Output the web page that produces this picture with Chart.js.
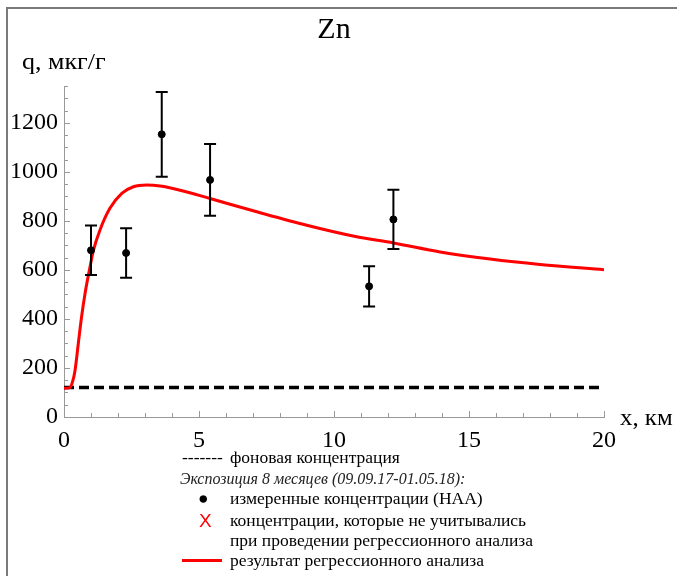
<!DOCTYPE html>
<html>
<head>
<meta charset="utf-8">
<script src="https://cdn.jsdelivr.net/npm/chart.js@4"></script>
<style>
  body { margin: 0; background: #fff; }
  #wrap { position: relative; width: 677px; height: 576px; overflow: hidden; background: #fff;
          font-family: "Liberation Serif", "Times New Roman", serif; color: #000; }
  #c { position: absolute; left: 0; top: 0; }
  .t { position: absolute; white-space: nowrap; line-height: 1; transform-origin: 0 50%; }
  .frameTop { position: absolute; left: 6px; top: 7px; width: 671px; height: 2px; background: #7a7a7a; }
  .frameLeft { position: absolute; left: 6px; top: 7px; width: 2px; height: 569px; background: #7a7a7a; }
  .leg { font-size: 17.5px; }
  .redline { position: absolute; left: 182px; top: 559px; width: 40px; height: 3px; background: #ff0000; }
</style>
</head>
<body>
<div id="wrap">
  <div class="frameTop"></div>
  <div class="frameLeft"></div>
  <canvas id="c" width="677" height="576"></canvas>

  <div class="t" style="left:0;width:668px;text-align:center;top:13px;font-size:30px;">Zn</div>
  <div class="t" style="left:22px;top:50px;font-size:23px;transform:scaleX(1.13);">q, мкг/г</div>
  <div class="t" style="left:620px;top:406px;font-size:23px;transform:scaleX(1.08);">x, км</div>

  <div class="t leg" style="left:182px;top:449px;">-------</div>
  <div class="t leg" style="left:230px;top:449px;">фоновая концентрация</div>
  <div class="t" style="left:180px;top:471px;font-size:16px;font-style:italic;color:#222;">Экспозиция 8 месяцев (09.09.17-01.05.18):</div>
  <div class="t leg" style="left:198px;top:490px;">●</div>
  <div class="t leg" style="left:230px;top:490px;">измеренные концентрации (НАА)</div>
  <div class="t" style="left:199px;top:511px;font-size:19px;color:#ff0000;font-family:'Liberation Sans',Arial,sans-serif;">X</div>
  <div class="t leg" style="left:230px;top:512px;">концентрации, которые не учитывались</div>
  <div class="t leg" style="left:230px;top:532px;">при проведении регрессионного анализа</div>
  <div class="redline"></div>
  <div class="t leg" style="left:230px;top:552px;">результат регрессионного анализа</div>
</div>

<script>
// Measured Zn concentrations (NAA) with their uncertainties
const distKm   = [1.0, 2.3, 3.62, 5.41, 11.3, 12.2];
const concZn   = [680, 669, 1153, 967, 533, 806];
const concErr  = [101, 101, 173, 146, 82, 121];

// Background concentration level
const backgroundLevel = 120;
const axisXRange = [0, 20];

// Regression curve, sampled along the distance axis
const fitX = [0, 0.22, 0.32, 0.41, 0.53, 0.65, 0.78, 0.94, 1.09, 1.33, 1.70, 2.14, 2.57, 3.06, 3.56, 4.30, 5.41, 7.14, 8.99, 10.84, 12.2, 13.93, 15.78, 17.63, 20];
const fitY = [117, 120, 145, 191, 300, 408, 504, 599, 680, 762, 851, 912, 939, 946, 942, 925, 891, 837, 782, 735, 710, 673, 644, 622, 601];

// Axis ticks
const xTickStep = 5;
const yTickStep = 200;
const yMax = 1350;

const SERIF = '"Liberation Serif", "Times New Roman", serif';

const errorBars = {
  id: 'errorBars',
  afterDatasetsDraw(chart) {
    const ctx = chart.ctx;
    const xs = chart.scales.x, ys = chart.scales.y;
    ctx.save();
    ctx.strokeStyle = '#000';
    ctx.lineWidth = 2;
    distKm.forEach((d, i) => {
      const px = xs.getPixelForValue(d);
      const top = ys.getPixelForValue(concZn[i] + concErr[i]);
      const bot = ys.getPixelForValue(concZn[i] - concErr[i]);
      ctx.beginPath();
      ctx.moveTo(px, top); ctx.lineTo(px, bot);
      ctx.moveTo(px - 6, top); ctx.lineTo(px + 6, top);
      ctx.moveTo(px - 6, bot); ctx.lineTo(px + 6, bot);
      ctx.stroke();
    });
    ctx.restore();
  }
};

// Small tick marks pointing into the plot area
const innerTicks = {
  id: 'innerTicks',
  afterDraw(chart) {
    const ctx = chart.ctx;
    const xs = chart.scales.x, ys = chart.scales.y;
    const a = chart.chartArea;
    ctx.save();
    ctx.strokeStyle = '#999';
    ctx.lineWidth = 1;
    ctx.beginPath();
    for (let v = 50; v <= yMax; v += 50) {
      const py = Math.round(ys.getPixelForValue(v)) + 0.5;
      const len = v % yTickStep === 0 ? 6 : 4;
      ctx.moveTo(a.left, py); ctx.lineTo(a.left + len, py);
    }
    for (let v = 1; v <= axisXRange[1]; v += 1) {
      const px = Math.round(xs.getPixelForValue(v)) + 0.5;
      const len = v % xTickStep === 0 ? 6 : 4;
      ctx.moveTo(px, a.bottom); ctx.lineTo(px, a.bottom - len);
    }
    ctx.stroke();
    ctx.restore();
  }
};

new Chart(document.getElementById('c'), {
  type: 'scatter',
  data: {
    datasets: [
      {
        label: 'фоновая концентрация',
        data: axisXRange.map(x => ({ x, y: backgroundLevel })),
        showLine: true,
        borderColor: '#000',
        borderWidth: 3.5,
        borderDash: [10, 5],
        pointRadius: 0,
        order: 3
      },
      {
        label: 'результат регрессионного анализа',
        data: fitX.map((x, i) => ({ x, y: fitY[i] })),
        showLine: true,
        borderColor: '#ff0000',
        borderWidth: 3,
        cubicInterpolationMode: 'monotone',
        pointRadius: 0,
        order: 2
      },
      {
        label: 'измеренные концентрации (НАА)',
        data: distKm.map((x, i) => ({ x, y: concZn[i] })),
        backgroundColor: '#000',
        borderColor: '#000',
        pointRadius: 3.5,
        order: 1
      }
    ]
  },
  options: {
    responsive: false,
    animation: false,
    layout: { padding: { left: 0, top: 86, right: 73, bottom: 119 } },
    plugins: { legend: { display: false }, tooltip: { enabled: false }, title: { display: false } },
    scales: {
      x: {
        type: 'linear',
        min: axisXRange[0], max: axisXRange[1],
        ticks: { stepSize: xTickStep, color: '#000', padding: 9, font: { family: SERIF, size: 24 }, maxRotation: 0,
                 callback: v => String(v) },
        grid: { drawOnChartArea: false, drawTicks: false },
        border: { color: '#999', width: 1 },
        afterFit(s) { s.height = 40; }
      },
      y: {
        min: 0, max: yMax,
        ticks: { stepSize: yTickStep, color: '#000', padding: 6, font: { family: SERIF, size: 24 },
                 callback: v => String(v) },
        afterBuildTicks(s) { s.ticks = s.ticks.filter(t => t.value % yTickStep === 0); },
        grid: { drawOnChartArea: false, drawTicks: false },
        border: { color: '#999', width: 1 },
        afterFit(s) { s.width = 64; }
      }
    }
  },
  plugins: [errorBars, innerTicks]
});
</script>
</body>
</html>
